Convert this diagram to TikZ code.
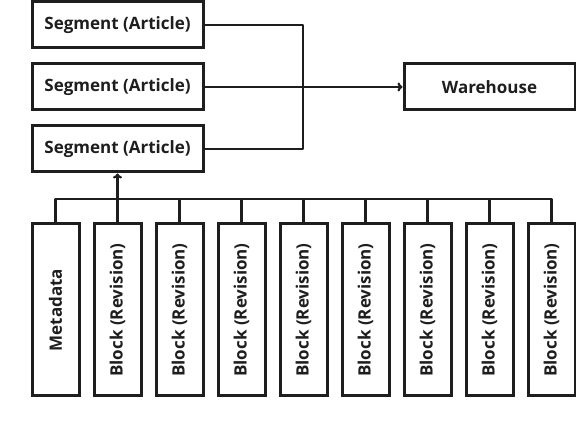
\documentclass[tikz,border=0pt]{standalone}
\usepackage{fontspec}
\usepackage{graphicx}
\setmainfont{Open Sans}
\usetikzlibrary{arrows.meta}
\definecolor{ink}{HTML}{1E1E1E}
\tikzset{
  box/.style={draw=ink, line width=3pt, fill=white, inner sep=0pt, font=\bfseries\fontsize{17}{20}\selectfont, text=ink},
  hbox/.style={box, minimum width=171pt, minimum height=46pt},
  vbox/.style={box, minimum width=47pt, minimum height=172pt},
  conn/.style={draw=ink, line width=2.2pt},
  arr/.style={conn, -{To[length=5pt,width=9pt]}}
}
\begin{document}
\begin{tikzpicture}[x=1pt,y=-1pt]
\useasboundingbox (0,0) rectangle (576,430);
\node[hbox] (s1) at (117.5,25) {Segment (Article)};
\node[hbox] (s2) at (117.5,87) {Segment (Article)};
\node[hbox] (s3) at (117.5,149) {Segment (Article)};
\node[hbox] (wh) at (489.5,87) {Warehouse};
\coordinate (jx) at (303,87);
\coordinate (bus) at (0,199);
\node[vbox] (meta) at (55.5,310) {\rotatebox{90}{Metadata}};
\foreach \i in {1,...,8}{
  \node[vbox] (b\i) at ({55.5+62*\i},310) {\rotatebox{90}{Block (Revision)}};
}
\draw[conn, line join=round] (s1.east) -| (jx) |- (s3.east);
\draw[arr] (s2.east) -- (wh.west);
\draw[conn, line join=round] (meta.north) -- (meta.north |- bus) -- (b8.north |- bus) -- (b8.north);
\foreach \i in {2,...,7}{
  \draw[conn] (b\i.north) -- (b\i.north |- bus);
}
\draw[arr] (b1.north) -- (s3.south);
\end{tikzpicture}
\end{document}
